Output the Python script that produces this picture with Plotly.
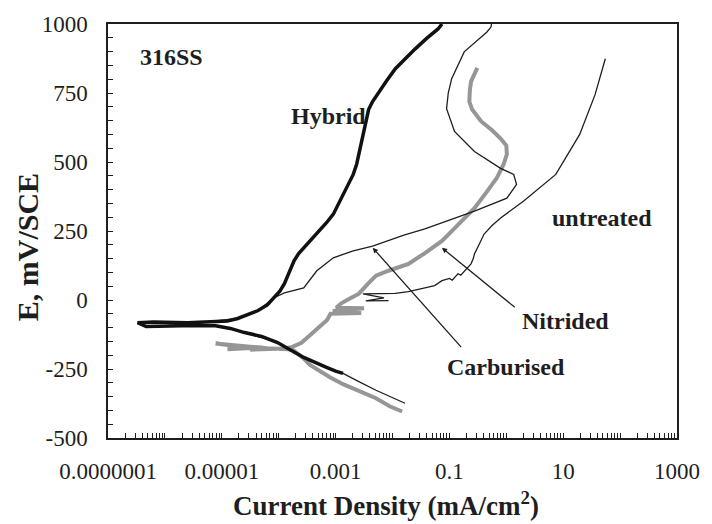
import numpy as np
import plotly.graph_objects as go

# Potentiodynamic polarisation curves of 316 stainless steel.
# Current density is stored as log10(mA/cm^2); potential in mV vs SCE.

hybrid_log_i = [-2.87, -3.0, -3.16, -3.35, -3.56, -3.8, -4.02, -4.3, -4.60, -4.85, -5.11,
                -5.7, -6.33, -6.48, -6.2, -5.6, -5.11, -4.9, -4.72, -4.55, -4.37, -4.2,
                -4.08, -3.98, -3.90, -3.82, -3.73, -3.65, -3.56, -3.42, -3.28, -3.16, -3.04,
                -2.95, -2.87, -2.78, -2.69, -2.63, -2.59, -2.55, -2.52, -2.47, -2.42, -2.35,
                -2.24, -2.1, -1.95, -1.78, -1.60, -1.40, -1.20, -1.13]
hybrid_e = [-266, -258, -244, -228, -208, -180, -154, -132, -118, -103, -93,
            -93, -96, -82, -80, -82, -80, -76, -67, -55, -39, -18,
            8, 32, 59, 100, 142, 168, 189, 222, 250, 280, 311,
            347, 383, 420, 455, 492, 528, 565, 600, 647, 690, 719,
            755, 795, 838, 875, 910, 948, 982, 1000]

carburised_log_i = [-1.78, -2.05, -2.29, -2.6, -2.87, -3.16, -3.56, -4.02, -4.60, -5.11, -5.5,
                    -4.72, -4.37, -4.08, -3.90, -3.56, -3.33, -3.04, -2.69, -2.35, -1.8, -1.43,
                    -1.26, -0.56, 0.01, 0.18, 0.13, -0.10, -0.56, -0.91, -1.05, -1.02, -0.96,
                    -0.74, -0.34, -0.27, -0.26]
carburised_e = [-374, -350, -327, -295, -266, -244, -208, -154, -118, -93, -85,
                -67, -39, 8, 26, 44, 106, 153, 178, 195, 235, 258,
                270, 322, 369, 419, 455, 477, 538, 611, 693, 750, 802,
                899, 971, 989, 1000]

nitrided_log_i = [-1.83, -2.05, -2.29, -2.6, -2.87, -3.1, -3.28, -3.45, -3.56, -3.7, -3.76,
                  -4.2, -4.8, -5.11, -4.6, -4.9, -4.3, -4.5, -3.9, -3.76, -3.6, -3.45,
                  -3.3, -3.15, -3.09, -2.55, -3.05, -2.5, -2.99, -2.9, -2.75, -2.59, -2.45,
                  -2.29, -2.07, -1.72, -1.43, -1.13, -0.85, -0.56, -0.35, -0.17, -0.05,
                  0.01, 0.0, -0.10, -0.25, -0.44, -0.6, -0.65, -0.64, -0.62, -0.51]
nitrided_e = [-404, -385, -356, -330, -305, -280, -259, -235, -212, -190, -179,
              -175, -165, -158, -170, -178, -172, -180, -176, -170, -155, -128,
              -100, -72, -50, -47, -40, -30, -28, -12, 5, 23, 55,
              88, 106, 131, 170, 214, 272, 333, 390, 441, 490,
              528, 560, 585, 615, 647, 690, 719, 760, 791, 841]

untreated_log_i = [-2.07, -2.47, -2.15, -2.52, -1.95, -1.72, -1.43, -1.26, -1.13, -1.0, -0.95,
                   -0.85, -0.80, -0.70, -0.62, -0.58, -0.56, -0.47, -0.39, -0.25, -0.10, 0.30,
                   0.87, 1.29, 1.56, 1.74]
untreated_e = [-2, -3, 8, 22, 24, 30, 44, 52, 70, 78, 72,
               95, 90, 115, 131, 150, 167, 205, 239, 270, 297, 358,
               455, 600, 744, 874]

# Tick labels
x_label_decades = [-7, -5, -3, -1, 1, 3]
x_label_text = ["0.0000001", "0.00001", "0.001", "0.1", "10", "1000"]
y_ticks = [-500, -250, 0, 250, 500, 750, 1000]
y_tick_text = ["-500", "-250", "0", "250", "500", "750", "1000"]

# Curve labels (text, current density mA/cm^2, potential mV)
labels = [
    ("316SS", 1.3e-6, 881),
    ("Hybrid", 7.6e-4, 665),
    ("untreated", 49.0, 297),
    ("Nitrided", 11.0, -75),
    ("Carburised", 1.0, -244),
]
# Leader lines: (tail current, tail potential, head current, head potential)
leaders = [
    (0.17, -176, 4.5e-3, 189),   # Carburised
    (1.5, -31, 7.4e-2, 189),     # Nitrided
]

serif = "Liberation Serif"
ink = "#1e1e1e"

def to_i(log_values):
    return [10 ** v for v in log_values]

fig = go.Figure()
fig.add_trace(go.Scatter(x=to_i(untreated_log_i), y=untreated_e, mode="lines",
                         line=dict(color=ink, width=1.3), name="untreated"))
fig.add_trace(go.Scatter(x=to_i(nitrided_log_i), y=nitrided_e, mode="lines",
                         line=dict(color="#969696", width=4), name="Nitrided"))
fig.add_trace(go.Scatter(x=to_i(carburised_log_i), y=carburised_e, mode="lines",
                         line=dict(color=ink, width=1.3), name="Carburised"))
fig.add_trace(go.Scatter(x=to_i(hybrid_log_i), y=hybrid_e, mode="lines",
                         line=dict(color="#111111", width=3.5), name="Hybrid"))

annotations = []
for text, i, e in labels:
    annotations.append(dict(x=np.log10(i), y=e, xref="x", yref="y", text=f"<b>{text}</b>",
                            showarrow=False, font=dict(family=serif, size=24, color=ink)))
for ti, te, hi, he in leaders:
    annotations.append(dict(x=np.log10(hi), y=he, ax=np.log10(ti), ay=te, xref="x", yref="y",
                            axref="x", ayref="y", text="", showarrow=True, arrowhead=2,
                            arrowsize=0.8, arrowwidth=1.3, arrowcolor=ink))
annotations.append(dict(x=-0.14, y=0.4615, xref="paper", yref="paper", text="<b>E, mV/SCE</b>",
                        textangle=-90, showarrow=False, xanchor="center", yanchor="middle",
                        font=dict(family=serif, size=30, color=ink)))
annotations.append(dict(x=0.488, y=-0.16, xref="paper", yref="paper",
                        text="<b>Current Density (mA/cm<sup>2</sup>)</b>",
                        showarrow=False, xanchor="center", yanchor="middle",
                        font=dict(family=serif, size=27, color=ink)))

# every decade gets its 1..9 ticks; only alternate decades carry text
x_tickvals, x_ticktext = [], []
for d in range(-7, 3):
    for k in range(1, 10):
        x_tickvals.append(k * 10.0 ** d)
        x_ticktext.append(x_label_text[x_label_decades.index(d)] if (k == 1 and d in x_label_decades) else "")
x_tickvals.append(10.0 ** 3)
x_ticktext.append(x_label_text[-1])

fig.update_layout(
    width=712, height=524,
    margin=dict(l=108, r=26, t=22, b=86),
    paper_bgcolor="white", plot_bgcolor="white",
    showlegend=False,
    annotations=annotations,
    font=dict(family=serif, color=ink),
)
fig.update_xaxes(type="log", range=[-7, 3], tickvals=x_tickvals, ticktext=x_ticktext,
                 ticks="inside", ticklen=5, tickwidth=1, tickcolor=ink,
                 showline=True, linecolor=ink, linewidth=1.5, mirror=True,
                 showgrid=False, zeroline=False, ticklabelstandoff=12,
                 tickfont=dict(family=serif, size=23, color=ink))
fig.update_yaxes(range=[-500, 1000], tickvals=y_ticks, ticktext=y_tick_text,
                 ticks="inside", ticklen=5, tickwidth=1, tickcolor=ink,
                 minor=dict(dtick=50, ticks="inside", ticklen=5, tickcolor=ink),
                 showline=True, linecolor=ink, linewidth=1.5, mirror=True,
                 showgrid=False, zeroline=False, ticklabelstandoff=14,
                 tickfont=dict(family=serif, size=23, color=ink))

fig.write_html("out.html")
